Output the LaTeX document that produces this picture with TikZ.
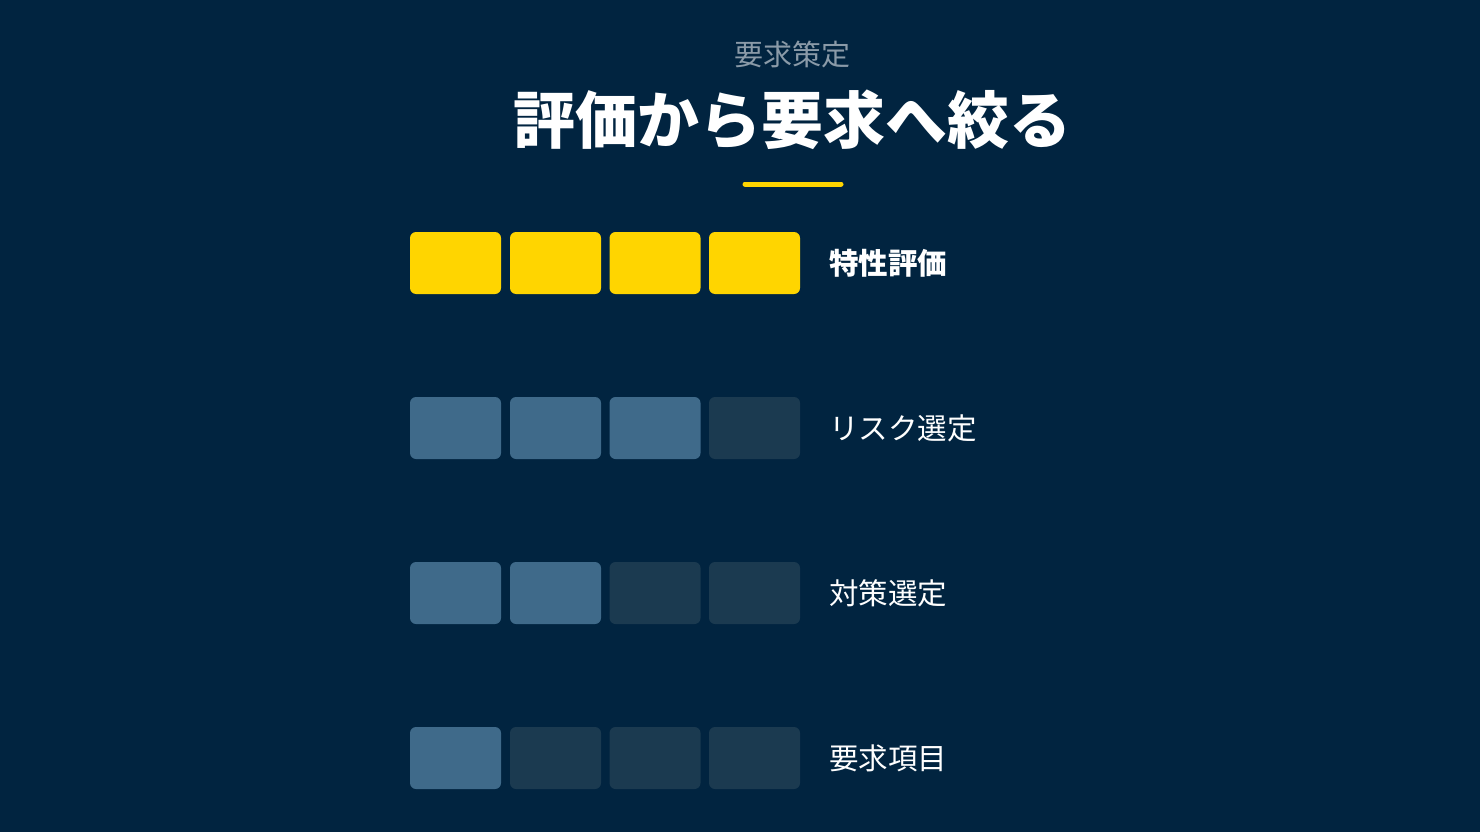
\documentclass[tikz,border=0pt]{standalone}
\usepackage{fontspec}
\setmainfont{Noto Sans CJK JP}
\definecolor{bg}{HTML}{012440}
\definecolor{yel}{HTML}{FFD500}
\definecolor{lit}{HTML}{3F6A8A}
\definecolor{dim}{HTML}{1B3A50}
\definecolor{sub}{HTML}{8A9AA8}
\tikzset{
  cell/.style={minimum width=91pt, minimum height=62pt, rounded corners=6pt, inner sep=0pt},
  on/.style={cell, fill=yel},
  lt/.style={cell, fill=lit},
  dk/.style={cell, fill=dim},
  lbl/.style={anchor=west, text=white, font=\fontsize{29.5}{33}\selectfont, inner sep=0pt},
}
\begin{document}
\begin{tikzpicture}[x=1pt,y=-1pt]
\fill[bg] (0,0) rectangle (1480,832);
\useasboundingbox (0,0) rectangle (1480,832);
\node[text=sub, font=\fontsize{29}{32}\selectfont] (sub) at (792,54) {要求策定};
\node[text=white, font=\fontsize{62}{70}\selectfont\bfseries] (title) at (792,120) {評価から要求へ絞る};
\coordinate (la) at (745,184);
\coordinate (lb) at (841,184);
\draw[yel, line width=5pt, line cap=round] (la) -- (lb);
% row 1
\node[on] (a1) at (455.5,263) {};
\node[on] (a2) at (555.5,263) {};
\node[on] (a3) at (655,263) {};
\node[on] (a4) at (754.5,263) {};
\node[lbl, font=\fontsize{29.5}{33}\selectfont\bfseries] (l1) at (829,263) {特性評価};
% row 2
\node[lt] (b1) at (455.5,428) {};
\node[lt] (b2) at (555.5,428) {};
\node[lt] (b3) at (655,428) {};
\node[dk] (b4) at (754.5,428) {};
\node[lbl] (l2) at (829,428) {リスク選定};
% row 3
\node[lt] (c1) at (455.5,593) {};
\node[lt] (c2) at (555.5,593) {};
\node[dk] (c3) at (655,593) {};
\node[dk] (c4) at (754.5,593) {};
\node[lbl] (l3) at (829,593) {対策選定};
% row 4
\node[lt] (d1) at (455.5,758) {};
\node[dk] (d2) at (555.5,758) {};
\node[dk] (d3) at (655,758) {};
\node[dk] (d4) at (754.5,758) {};
\node[lbl] (l4) at (829,758) {要求項目};
\end{tikzpicture}
\end{document}
